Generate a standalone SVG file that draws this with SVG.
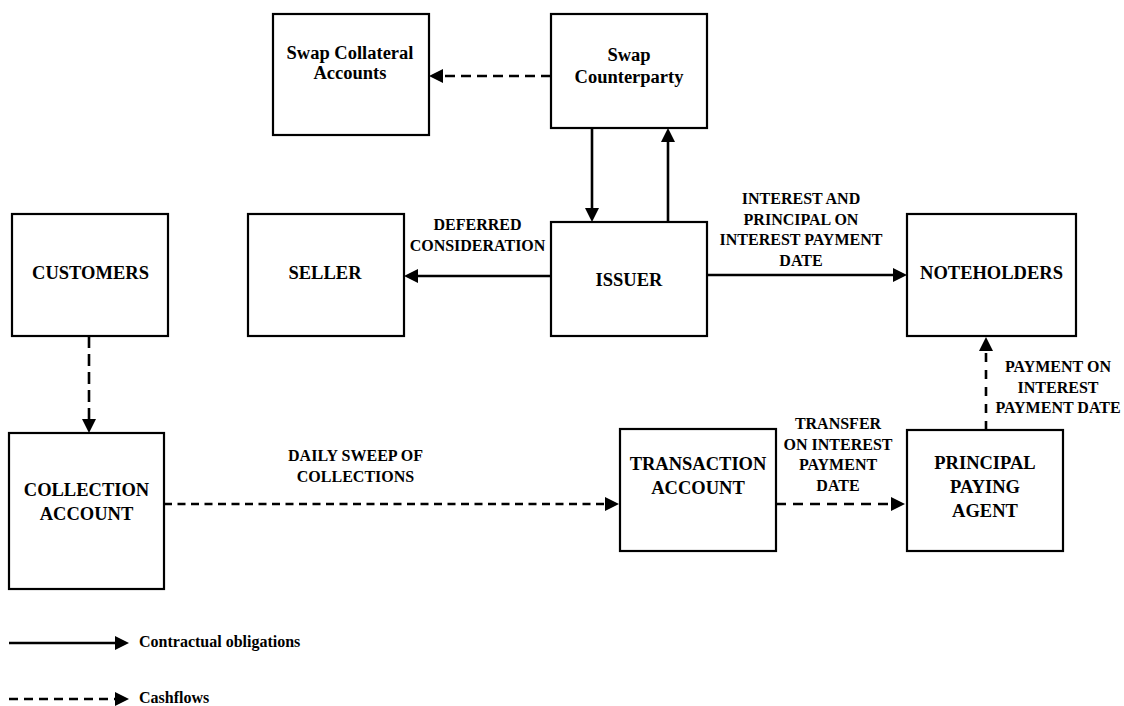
<svg xmlns="http://www.w3.org/2000/svg" width="1124" height="706" viewBox="0 0 1124 706">
<style>
  .box { fill: #ffffff; stroke: #000000; stroke-width: 2.2; }
  .nl { font-family: "Liberation Serif", "Times New Roman", serif; font-weight: bold; font-size: 18.5px; fill: #000; text-anchor: middle; }
  .el { font-family: "Liberation Serif", "Times New Roman", serif; font-weight: bold; font-size: 16px; fill: #000; text-anchor: middle; }
  .lg { font-family: "Liberation Serif", "Times New Roman", serif; font-weight: bold; font-size: 16px; fill: #000; }
  .solid { stroke: #000; stroke-width: 2.6; fill: none; marker-end: url(#ah); }
  .dash { stroke: #000; stroke-width: 2.6; fill: none; stroke-dasharray: 9 6; marker-end: url(#ah); }
</style>
<defs>
  <marker id="ah" markerUnits="userSpaceOnUse" markerWidth="14" markerHeight="14" refX="4" refY="7" orient="auto">
    <path d="M0,0 L14,7 L0,14 z" fill="#000" stroke="none"/>
  </marker>
</defs>
<rect width="1124" height="706" fill="#ffffff"/>

<g id="connectors">
  <line class="dash" x1="551" y1="76" x2="439" y2="76" style="stroke-dasharray:10 6"/>
  <line class="solid" x1="592" y1="128" x2="592" y2="212"/>
  <line class="solid" x1="668" y1="222" x2="668" y2="138"/>
  <line class="solid" x1="551" y1="276" x2="414" y2="276"/>
  <line class="solid" x1="707" y1="275" x2="897" y2="275"/>
  <line class="dash" x1="89" y1="336" x2="89" y2="423" style="stroke-dasharray:12 6"/>
  <line class="dash" x1="164" y1="504" x2="609" y2="504" style="stroke-dasharray:8 5.5"/>
  <line class="dash" x1="776" y1="504" x2="895" y2="504" style="stroke-dasharray:10 7"/>
  <line class="dash" x1="986" y1="430" x2="986" y2="347" style="stroke-dasharray:9 8"/>
</g>

<g id="edge-labels">
  <text class="el" x="477.5" y="230">DEFERRED</text>
  <text class="el" x="477.5" y="251">CONSIDERATION</text>
  <text class="el" x="801" y="204">INTEREST AND</text>
  <text class="el" x="801" y="225">PRINCIPAL ON</text>
  <text class="el" x="801" y="245">INTEREST PAYMENT</text>
  <text class="el" x="801" y="265.5">DATE</text>
  <text class="el" x="355.5" y="461">DAILY SWEEP OF</text>
  <text class="el" x="355.5" y="482">COLLECTIONS</text>
  <text class="el" x="838" y="429">TRANSFER</text>
  <text class="el" x="838" y="450">ON INTEREST</text>
  <text class="el" x="838" y="470">PAYMENT</text>
  <text class="el" x="838" y="491">DATE</text>
  <text class="el" x="1058" y="372">PAYMENT ON</text>
  <text class="el" x="1058" y="392.5">INTEREST</text>
  <text class="el" x="1058" y="413">PAYMENT DATE</text>
</g>

<g id="swap-collateral">
  <rect class="box" x="273" y="14" width="156" height="121"/>
  <text class="nl" x="350" y="59">Swap Collateral</text>
  <text class="nl" x="350" y="78.5">Accounts</text>
</g>
<g id="swap-counterparty">
  <rect class="box" x="551" y="14" width="156" height="114"/>
  <text class="nl" x="629" y="61">Swap</text>
  <text class="nl" x="629" y="83">Counterparty</text>
</g>
<g id="customers">
  <rect class="box" x="12" y="214" width="156" height="122"/>
  <text class="nl" x="90.5" y="279">CUSTOMERS</text>
</g>
<g id="seller">
  <rect class="box" x="248" y="214" width="156" height="122"/>
  <text class="nl" x="325" y="279">SELLER</text>
</g>
<g id="issuer">
  <rect class="box" x="551" y="222" width="156" height="114"/>
  <text class="nl" x="629" y="286">ISSUER</text>
</g>
<g id="noteholders">
  <rect class="box" x="907" y="214" width="169" height="122"/>
  <text class="nl" x="991.5" y="279">NOTEHOLDERS</text>
</g>
<g id="collection-account">
  <rect class="box" x="9" y="433" width="155" height="156"/>
  <text class="nl" x="86.5" y="496">COLLECTION</text>
  <text class="nl" x="86.5" y="520">ACCOUNT</text>
</g>
<g id="transaction-account">
  <rect class="box" x="620" y="429" width="156" height="122"/>
  <text class="nl" x="698" y="470">TRANSACTION</text>
  <text class="nl" x="698" y="494">ACCOUNT</text>
</g>
<g id="principal-paying-agent">
  <rect class="box" x="907" y="430" width="156" height="121"/>
  <text class="nl" x="985" y="469">PRINCIPAL</text>
  <text class="nl" x="985" y="493">PAYING</text>
  <text class="nl" x="985" y="517">AGENT</text>
</g>

<g id="legend">
  <line class="solid" x1="9" y1="643" x2="119" y2="643"/>
  <text class="lg" x="139" y="647">Contractual obligations</text>
  <line class="dash" x1="9" y1="699" x2="119" y2="699"/>
  <text class="lg" x="139" y="703">Cashflows</text>
</g>
</svg>
